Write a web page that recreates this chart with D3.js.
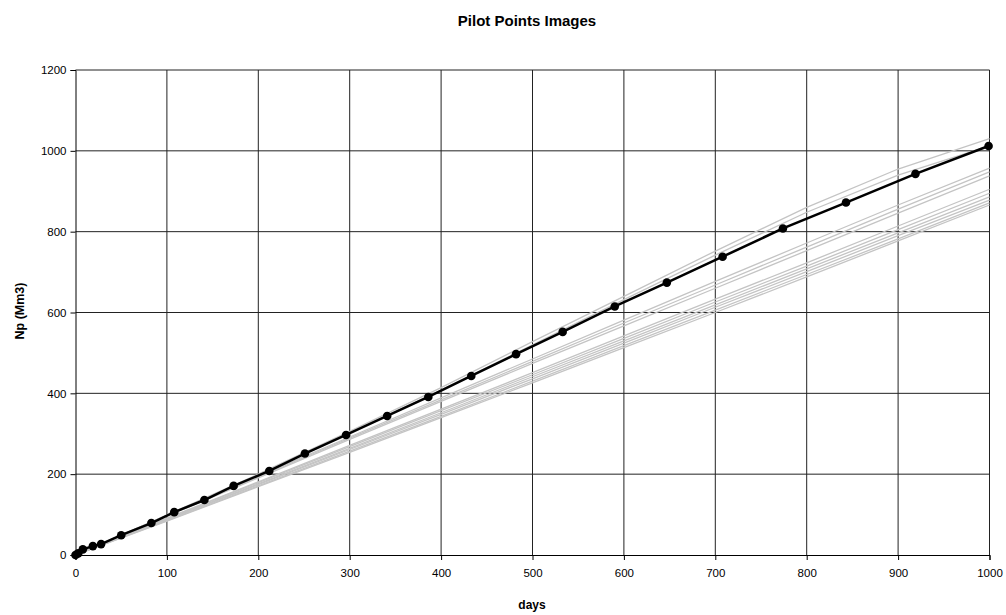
<!DOCTYPE html>
<html>
<head>
<meta charset="utf-8">
<script src="https://cdn.jsdelivr.net/npm/d3@7"></script>
<style>
  html, body { margin: 0; padding: 0; background: #fff; }
  svg { display: block; font-family: "Liberation Sans", Arial, sans-serif; }
</style>
</head>
<body>
<svg id="chart" width="1006" height="615"></svg>
<script>
// Observed production (black, with markers)
const obsDays = [0, 3, 8, 19, 28, 50, 83, 108, 141, 173, 212, 251, 296, 341, 386, 433, 482, 533, 590, 647, 708, 774, 843, 919, 999];
const obsNp   = [0, 4, 14, 22, 27, 49, 79, 106, 136, 171, 208, 251, 297, 344, 391, 443, 497, 552, 615, 674, 738, 808, 872, 943, 1012];

// Pilot point realisations (grey)
const imgDays = [0, 100, 200, 300, 400, 500, 600, 700, 800, 900, 1000];
const img01 = [0, 99, 200, 306, 414, 528, 640, 752, 860, 955, 1030];
const img02 = [0, 98, 197, 302, 408, 520, 632, 742, 848, 940, 1012];
const img03 = [0, 98, 195, 292, 389, 485, 581, 677, 772, 866, 957];
const img04 = [0, 97, 193, 289, 384, 479, 574, 668, 762, 856, 948];
const img05 = [0, 96, 191, 286, 380, 474, 567, 660, 753, 846, 938];
const img06 = [0, 91, 181, 271, 361, 451, 542, 633, 723, 814, 905];
const img07 = [0, 90, 179, 268, 357, 446, 536, 626, 715, 805, 895];
const img08 = [0, 88, 176, 264, 352, 441, 530, 619, 708, 797, 886];
const img09 = [0, 87, 174, 261, 348, 436, 524, 613, 701, 790, 878];
const img10 = [0, 85, 171, 257, 343, 430, 518, 606, 694, 782, 871];
const img11 = [0, 84, 169, 254, 340, 426, 513, 600, 688, 777, 866];
const images = [img01, img02, img03, img04, img05, img06, img07, img08, img09, img10, img11];

const xTicks = [0, 100, 200, 300, 400, 500, 600, 700, 800, 900, 1000];
const yTicks = [0, 200, 400, 600, 800, 1000, 1200];

const svg = d3.select("#chart");
const plotL = 75.5, plotR = 989.5, plotT = 70, plotB = 555;

const x = d3.scaleLinear().domain([0, 1000]).range([plotL, plotR]);
const y = d3.scaleLinear().domain([0, 1200]).range([plotB, plotT]);

// Grid
const grid = svg.append("g");
grid.selectAll("line.v").data(xTicks.slice(1)).join("line")
  .attr("x1", d => x(d)).attr("x2", d => x(d))
  .attr("y1", plotT).attr("y2", plotB)
  .attr("stroke", "#222").attr("stroke-width", 1);
grid.selectAll("line.h").data(yTicks.slice(1)).join("line")
  .attr("x1", plotL).attr("x2", plotR)
  .attr("y1", d => y(d)).attr("y2", d => y(d))
  .attr("stroke", "#222").attr("stroke-width", 1);

// Grey realisations
const line = d3.line().x(d => x(d[0])).y(d => y(d[1]));
svg.append("g").selectAll("path").data(images).join("path")
  .attr("d", vals => line(imgDays.map((dd, i) => [dd, vals[i]])))
  .attr("fill", "none").attr("stroke", "#c4c4c4").attr("stroke-width", 1.3);

// Observed curve
const obs = obsDays.map((dd, i) => [dd, obsNp[i]]);
svg.append("path").attr("d", line(obs))
  .attr("fill", "none").attr("stroke", "#000").attr("stroke-width", 2.5);
svg.append("g").selectAll("circle").data(obs).join("circle")
  .attr("cx", d => x(d[0])).attr("cy", d => y(d[1])).attr("r", 4.3)
  .attr("fill", "#000");

// Axes
const xAxis = d3.axisBottom(x).tickValues(xTicks).tickSize(5).tickPadding(9).tickFormat(d3.format("d"));
const yAxis = d3.axisLeft(y).tickValues(yTicks).tickSize(5).tickPadding(4).tickFormat(d3.format("d"));
const gx = svg.append("g").attr("transform", `translate(0,${plotB})`).call(xAxis);
const gy = svg.append("g").attr("transform", `translate(${plotL},0)`).call(yAxis);
[gx, gy].forEach(g => {
  g.select(".domain").attr("stroke", "#000");
  g.selectAll(".tick line").attr("stroke", "#000");
  g.selectAll("text").attr("font-size", 11.5).attr("fill", "#000")
    .attr("font-family", "Liberation Sans, Arial, sans-serif");
});

// Titles
svg.append("text").attr("x", 527).attr("y", 26).attr("text-anchor", "middle")
  .attr("font-size", 15).attr("font-weight", "bold").text("Pilot Points Images");
svg.append("text").attr("x", 532).attr("y", 609).attr("text-anchor", "middle")
  .attr("font-size", 12).attr("font-weight", "bold").text("days");
svg.append("text").attr("transform", "translate(24,311) rotate(-90)").attr("text-anchor", "middle")
  .attr("font-size", 12.5).attr("font-weight", "bold").text("Np (Mm3)");
</script>
</body>
</html>
